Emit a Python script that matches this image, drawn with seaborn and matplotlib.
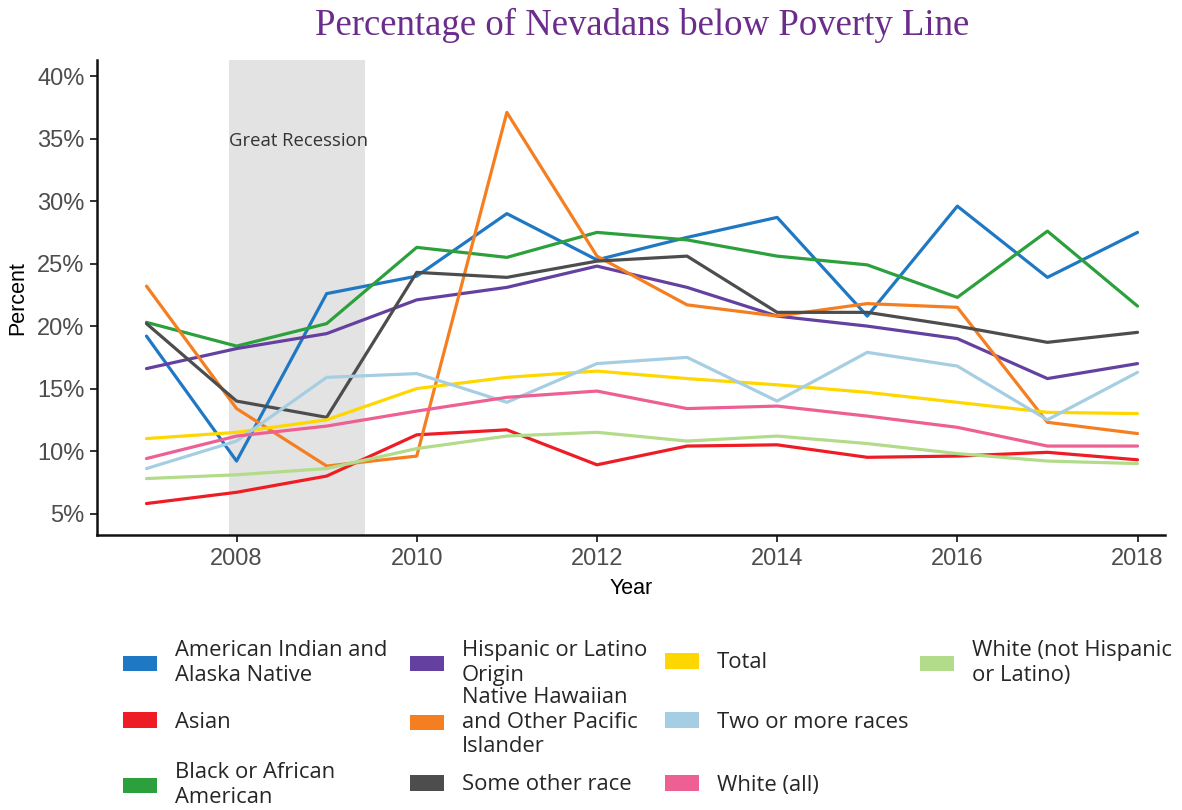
import matplotlib
matplotlib.use("Agg")
import pandas as pd
import matplotlib.pyplot as plt
from matplotlib.patches import Patch
from matplotlib.ticker import FuncFormatter
import seaborn as sns

years = list(range(2007, 2019))

groups = ["American Indian and\nAlaska Native", "Asian", "Black or African\nAmerican",
          "Hispanic or Latino\nOrigin", "Native Hawaiian\nand Other Pacific\nIslander",
          "Some other race", "Total", "Two or more races", "White (all)",
          "White (not Hispanic\nor Latino)"]

american_indian = [19.2, 9.2, 22.6, 24.0, 29.0, 25.3, 27.1, 28.7, 20.8, 29.6, 23.9, 27.5]
asian = [5.8, 6.7, 8.0, 11.3, 11.7, 8.9, 10.4, 10.5, 9.5, 9.6, 9.9, 9.3]
black = [20.3, 18.4, 20.2, 26.3, 25.5, 27.5, 26.9, 25.6, 24.9, 22.3, 27.6, 21.6]
hispanic = [16.6, 18.2, 19.4, 22.1, 23.1, 24.8, 23.1, 20.8, 20.0, 19.0, 15.8, 17.0]
hawaiian = [23.2, 13.4, 8.8, 9.6, 37.1, 25.6, 21.7, 20.8, 21.8, 21.5, 12.3, 11.4]
other_race = [20.2, 14.0, 12.7, 24.3, 23.9, 25.2, 25.6, 21.1, 21.1, 20.0, 18.7, 19.5]
total = [11.0, 11.5, 12.5, 15.0, 15.9, 16.4, 15.8, 15.3, 14.7, 13.9, 13.1, 13.0]
two_or_more = [8.6, 10.8, 15.9, 16.2, 13.9, 17.0, 17.5, 14.0, 17.9, 16.8, 12.5, 16.3]
white_all = [9.4, 11.2, 12.0, 13.2, 14.3, 14.8, 13.4, 13.6, 12.8, 11.9, 10.4, 10.4]
white_non_hisp = [7.8, 8.1, 8.6, 10.2, 11.2, 11.5, 10.8, 11.2, 10.6, 9.8, 9.2, 9.0]

colors = ["#1f78c4", "#ee1c25", "#2ca03c", "#6441a0", "#f57f20",
          "#4d4d4d", "#ffd700", "#a6cee3", "#ee5f93", "#b2db8a"]

recession_start, recession_end = 2007.92, 2009.42

series = [american_indian, asian, black, hispanic, hawaiian,
          other_race, total, two_or_more, white_all, white_non_hisp]
df = pd.DataFrame({
    "Year": years * len(groups),
    "Percent": [v for s in series for v in s],
    "Group": [g for g in groups for _ in years],
})
palette = dict(zip(groups, colors))

sns.set_theme(style="ticks")
plt.rcParams["font.family"] = ["Liberation Sans", "DejaVu Sans"]

fig = plt.figure(figsize=(11.82, 8.10), dpi=100)
ax = fig.add_axes([0.082, 0.339, 0.904, 0.587])

ax.axvspan(recession_start, recession_end, color="#e3e3e3", lw=0, zorder=0)
ax.text(recession_start, 34.8, "Great Recession", ha="left", va="center",
        fontsize=13.3, color="#333333", family=["Open Sans", "DejaVu Sans"])

sns.lineplot(data=df, x="Year", y="Percent", hue="Group", hue_order=groups,
             palette=palette, linewidth=2.3, ax=ax, legend=False)

ax.set_xlim(2006.45, 2018.31)
ax.set_ylim(3.25, 41.3)
ax.set_xticks(range(2008, 2019, 2))
ax.set_yticks(range(5, 41, 5))
ax.yaxis.set_major_formatter(FuncFormatter(lambda v, p: f"{v:.0f}%"))
ax.tick_params(labelsize=17, labelcolor="#4d4d4d", color="#222222",
               length=5, width=1.3, pad=4)
for side in ["left", "bottom"]:
    ax.spines[side].set_linewidth(1.8)
    ax.spines[side].set_color("#111111")
sns.despine(ax=ax)

ax.set_xlabel("Year", fontsize=15.5, color="black", labelpad=6)
ax.set_ylabel("Percent", fontsize=15.5, color="black", labelpad=6)

fig.suptitle("Percentage of Nevadans below Poverty Line", x=0.543, y=0.99,
             va="top", fontsize=26.5, color="#6b2c8c",
             family=["Liberation Serif", "DejaVu Serif"])

# legend laid out as a 4x3 grid, filled column by column
col_x = [123, 410, 665, 920]
row_y = [663, 722, 785]
W, H = 1182, 810
for i, (g, c) in enumerate(zip(groups, colors)):
    col, row = i // 3, i % 3
    fig.legend([Patch(facecolor=c, edgecolor="none")], [g],
               loc="center left",
               bbox_to_anchor=(col_x[col] / W, 1 - row_y[row] / H),
               frameon=False, borderpad=0, borderaxespad=0,
               handlelength=1.55, handleheight=0.7, handletextpad=0.8,
               labelspacing=0.2,
               prop={"family": ["Open Sans", "DejaVu Sans"], "size": 15.8})

fig.savefig("out.png", dpi=100)
